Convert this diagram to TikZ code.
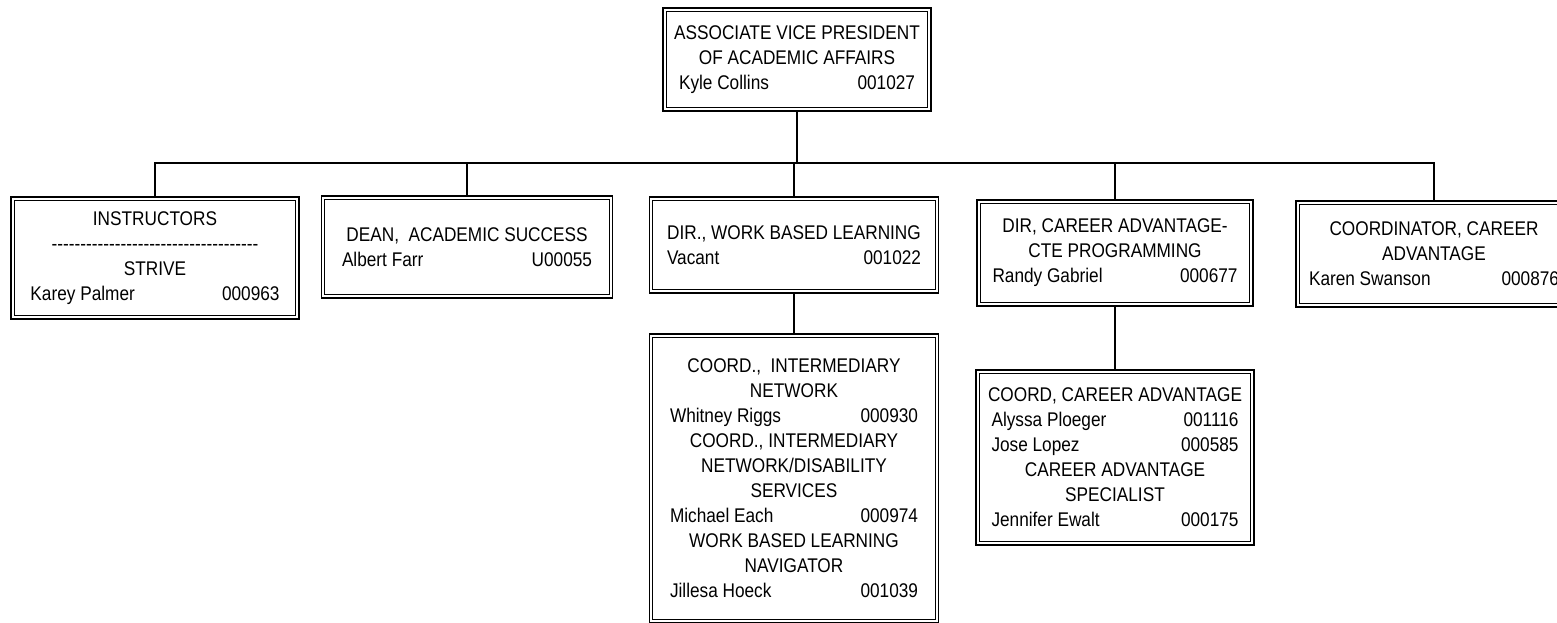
\documentclass[tikz,border=0pt]{standalone}
\usepackage{fontspec}
\setmainfont{Liberation Sans}[FakeStretch=0.87]
\usetikzlibrary{calc}
\newcommand\rowx[3]{\makebox[#1pt]{#2\hfill #3}}
\newcommand\dd{\mbox{-}}
\newcommand\dashrow{\dd\dd\dd\dd\dd\dd\dd\dd\dd\dd\dd\dd\dd\dd\dd\dd\dd\dd\dd\dd\dd\dd\dd\dd\dd\dd\dd\dd\dd\dd\dd\dd\dd\dd\dd\dd}
\begin{document}
\begin{tikzpicture}[x=1pt,y=-1pt,
  box/.style={draw, line width=1.8pt, inner sep=0pt, align=center,
    font=\fontsize{19.8pt}{25pt}\selectfont},
  innerline/.style={line width=1.1pt},
  conn/.style={line width=1.8pt}]
\useasboundingbox (0,0) rectangle (1557,622);
\clip (0,0) rectangle (1557,622);

\node[box, minimum width=268pt, minimum height=103pt] (top) at (797,59.5)
  {ASSOCIATE VICE PRESIDENT\\OF ACADEMIC AFFAIRS\\\rowx{236}{Kyle Collins}{001027}};

\node[box, minimum width=288pt, minimum height=122pt] (instr) at (155,258)
  {INSTRUCTORS\\\dashrow\\STRIVE\\\rowx{249}{Karey Palmer}{000963}};

\node[box, minimum width=291pt, minimum height=102pt] (dean) at (467,247)
  {DEAN,\ \ ACADEMIC SUCCESS\\\rowx{250}{Albert Farr}{U00055}};

\node[box, minimum width=289pt, minimum height=96pt] (dirwbl) at (794,245)
  {DIR., WORK BASED LEARNING\\\rowx{254}{Vacant}{001022}};

\node[box, minimum width=276pt, minimum height=106pt] (dircar) at (1115,253)
  {DIR, CAREER ADVANTAGE-\\CTE PROGRAMMING\\\rowx{245}{Randy Gabriel}{000677}};

\node[box, minimum width=276pt, minimum height=106pt] (coord) at (1434,254)
  {COORDINATOR, CAREER\\ADVANTAGE\\\rowx{250}{Karen Swanson}{000876}};

\node[box, minimum width=289pt, minimum height=289pt] (lowwbl) at (794,478.5)
  {COORD.,\ \ INTERMEDIARY\\NETWORK\\\rowx{248}{Whitney Riggs}{000930}\\
   COORD., INTERMEDIARY\\NETWORK/DISABILITY\\SERVICES\\\rowx{248}{Michael Each}{000974}\\
   WORK BASED LEARNING\\NAVIGATOR\\\rowx{248}{Jillesa Hoeck}{001039}};

\node[box, minimum width=278pt, minimum height=175pt] (lowcar) at (1115,457.5)
  {COORD, CAREER ADVANTAGE\\\rowx{247}{Alyssa Ploeger}{001116}\\\rowx{247}{Jose Lopez}{000585}\\
   CAREER ADVANTAGE\\SPECIALIST\\\rowx{247}{Jennifer Ewalt}{000175}};

\foreach \n in {top,instr,dean,dirwbl,dircar,coord,lowwbl,lowcar}
  \draw[innerline] ($(\n.south west)+(4.3pt,4.3pt)$) rectangle ($(\n.north east)+(-4.3pt,-4.3pt)$);

\coordinate (bar) at (797,163);
\draw[conn] (top.south) -- (top.south |- bar);
\draw[conn] (instr.north) -- (instr.north |- bar) -- (coord.north |- bar) -- (coord.north);
\draw[conn] (dean.north) -- (dean.north |- bar);
\draw[conn] (dirwbl.north) -- (dirwbl.north |- bar);
\draw[conn] (dircar.north) -- (dircar.north |- bar);
\draw[conn] (dirwbl.south) -- (lowwbl.north);
\draw[conn] (dircar.south) -- (lowcar.north);
\end{tikzpicture}
\end{document}
